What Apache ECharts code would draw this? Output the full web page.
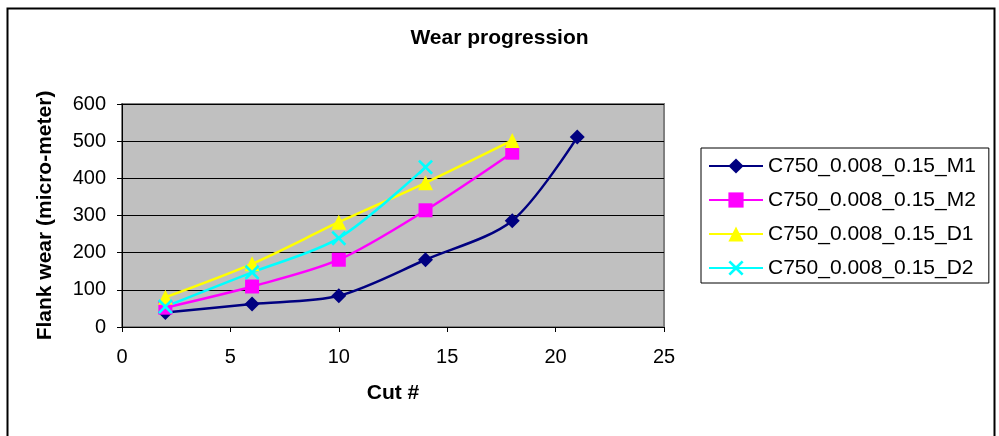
<!DOCTYPE html>
<html>
<head>
<meta charset="utf-8">
<script src="https://cdn.jsdelivr.net/npm/echarts@6/dist/echarts.min.js"></script>
<style>html,body{margin:0;padding:0;background:#fff;}#c{width:999px;height:436px;}</style>
</head>
<body>
<div id="c"></div>
<script>
const seriesNames = ['C750_0.008_0.15_M1', 'C750_0.008_0.15_M2', 'C750_0.008_0.15_D1', 'C750_0.008_0.15_D2'];
const cutsM1 = [2, 6, 10, 14, 18, 21];
const wearM1 = [39, 62, 84, 181, 286, 511];
const cutsM2 = [2, 6, 10, 14, 18];
const wearM2 = [52, 109, 181, 314, 469];
const cutsD1 = [2, 6, 10, 14, 18];
const wearD1 = [80, 170, 282, 388, 502];
const cutsD2 = [2, 6, 10, 14];
const wearD2 = [55, 147, 239, 430];
const xTicks = [0, 5, 10, 15, 20, 25];
const yTicks = [0, 100, 200, 300, 400, 500, 600];

const pairs = (xs, ys) => xs.map((x, i) => [x, ys[i]]);
const FONT = '"Liberation Sans", Arial, sans-serif';
const crossPath = 'path://M0,1.5 L1.5,0 L6,4.5 L10.5,0 L12,1.5 L7.5,6 L12,10.5 L10.5,12 L6,7.5 L1.5,12 L0,10.5 L4.5,6 Z';

const styles = [
  { color: '#000080', symbol: 'diamond', size: 15 },
  { color: '#FF00FF', symbol: 'rect', size: 14 },
  { color: '#FFFF00', symbol: 'triangle', size: 15 },
  { color: '#00FFFF', symbol: crossPath, size: 15 }
];
const datasets = [pairs(cutsM1, wearM1), pairs(cutsM2, wearM2), pairs(cutsD1, wearD1), pairs(cutsD2, wearD2)];

const chart = echarts.init(document.getElementById('c'), null, { renderer: 'canvas' });
chart.setOption({
  animation: false,
  backgroundColor: '#fff',
  title: {
    text: 'Wear progression',
    left: 'center',
    top: 23,
    textStyle: { fontFamily: FONT, fontSize: 21, fontWeight: 'bold', color: '#000' }
  },
  graphic: [{
    type: 'rect',
    shape: { x: 7.5, y: 8.5, width: 987, height: 460 },
    style: { fill: 'none', stroke: '#000', lineWidth: 2 },
    silent: true, z: -1
  }],
  legend: {
    orient: 'vertical',
    left: 701,
    top: 148,
    padding: [7.5, 13, 4.5, 7],
    itemGap: 13,
    itemWidth: 54,
    itemHeight: 19,
    borderColor: '#000',
    borderWidth: 1,
    backgroundColor: '#fff',
    data: seriesNames,
    textStyle: { fontFamily: FONT, fontSize: 21, color: '#000' }
  },
  grid: {
    left: 122, right: 335, top: 104, bottom: 109,
    show: true,
    backgroundColor: '#C0C0C0',
    borderColor: '#808080',
    borderWidth: 2
  },
  xAxis: {
    type: 'value', min: 0, max: 25, interval: 5,
    name: 'Cut #', nameLocation: 'middle', nameGap: 56,
    nameTextStyle: { fontFamily: FONT, fontSize: 21, fontWeight: 'bold', color: '#000' },
    axisLine: { show: true, onZero: false, lineStyle: { color: '#000', width: 1 } },
    axisTick: { show: true, length: 5, lineStyle: { color: '#000' } },
    axisLabel: { fontFamily: FONT, fontSize: 20, color: '#000', margin: 20,
      formatter: v => xTicks.includes(v) ? String(v) : '' },
    splitLine: { show: false }
  },
  yAxis: {
    type: 'value', min: 0, max: 600, interval: 100,
    name: 'Flank wear (micro-meter)', nameLocation: 'middle', nameGap: 66,
    nameTextStyle: { fontFamily: FONT, fontSize: 21, fontWeight: 'bold', color: '#000' },
    axisLine: { show: true, lineStyle: { color: '#000', width: 1 } },
    axisTick: { show: true, length: 5, lineStyle: { color: '#000' } },
    axisLabel: { fontFamily: FONT, fontSize: 20, color: '#000', margin: 16,
      formatter: v => yTicks.includes(v) ? String(v) : '' },
    splitLine: { show: true, lineStyle: { color: '#000', width: 1 } }
  },
  series: seriesNames.map((name, i) => ({
    name,
    type: 'line',
    data: datasets[i],
    smooth: 0.3,
    symbol: styles[i].symbol,
    symbolSize: styles[i].size,
    lineStyle: { color: styles[i].color, width: 2.5 },
    itemStyle: { color: styles[i].color }
  }))
});
</script>
</body>
</html>
